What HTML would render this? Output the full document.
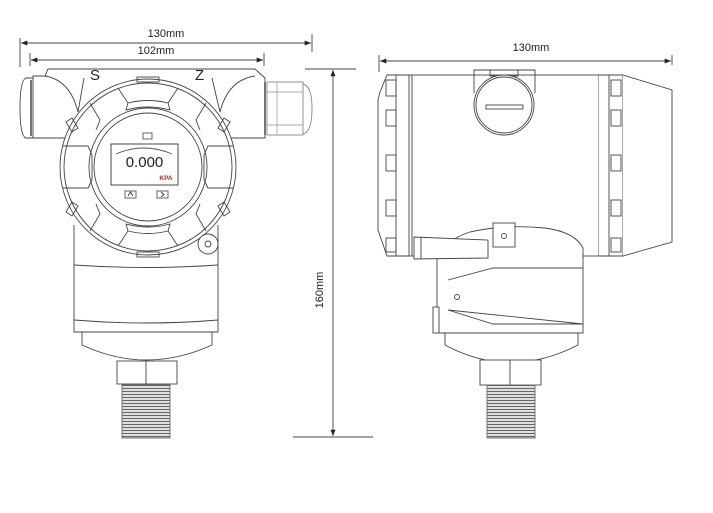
<!DOCTYPE html>
<html><head><meta charset="utf-8"><style>
html,body{margin:0;padding:0;background:#fff;}
svg{display:block;}
text{font-family:"Liberation Sans",sans-serif;fill:#222;}
</style></head><body>
<svg width="713" height="513" viewBox="0 0 713 513" xmlns="http://www.w3.org/2000/svg">
<defs>
<marker id="a" viewBox="0 0 10 10" refX="10" refY="5" markerWidth="7" markerHeight="7" orient="auto-start-reverse"><path d="M0,1 L10,5 L0,9 z" fill="#222"/></marker>
<pattern id="thr" width="4" height="3" patternUnits="userSpaceOnUse"><rect width="4" height="3" fill="#fff"/><line x1="0" y1="1.5" x2="4" y2="1.5" stroke="#666" stroke-width="1.4"/></pattern>
</defs>
<g fill="none" stroke="#444" stroke-width="0.9">
<!-- LEFT VIEW dimensions -->
<line x1="20" y1="38" x2="20" y2="67"/>
<line x1="312" y1="34" x2="312" y2="52"/>
<line x1="21" y1="43" x2="311" y2="43" marker-start="url(#a)" marker-end="url(#a)"/>
<line x1="30" y1="53" x2="30" y2="66"/>
<line x1="264" y1="53" x2="264" y2="66"/>
<line x1="31" y1="60" x2="263" y2="60" marker-start="url(#a)" marker-end="url(#a)"/>
<!-- 160 dim -->
<line x1="305" y1="69" x2="356" y2="69"/>
<line x1="293" y1="437" x2="373" y2="437"/>
<line x1="333" y1="70" x2="333" y2="436" marker-start="url(#a)" marker-end="url(#a)"/>

<!-- top housing -->
<path d="M33,138 L33,76 L45,76 L48,69 L255,69 L265,78 L265,138 Z" fill="#fff"/>
<path d="M45,76 Q70,80 78,112 L84,78"/>
<path d="M255,76 Q228,80 220,112 L212,78"/>
<path d="M33,78 L26,78 Q20,80 20,108 Q20,136 26,138 L33,138 Z" fill="#fff"/>
<line x1="31" y1="80" x2="31" y2="136" stroke-width="1.5"/>
<!-- right gland -->
<line x1="265" y1="82" x2="265" y2="135" stroke-width="1.5"/>
<rect x="267" y="82" width="36" height="53" stroke="#888" fill="#fff"/>
<line x1="277" y1="82" x2="277" y2="135" stroke="#aaa"/>
<line x1="267" y1="92" x2="303" y2="92" stroke="#aaa"/>
<line x1="267" y1="125" x2="303" y2="125" stroke="#aaa"/>
<path d="M303,84 Q312,86 312,108 Q312,132 303,134" stroke="#888"/>

<!-- body below -->
<path d="M74,225 L74,332 L218,332 L218,225" fill="#fff"/>
<path d="M74,265 Q146,270 218,265"/>
<path d="M74,320 Q146,326 218,320"/>
<path d="M82,332 L82,345 Q146,375 212,345 L212,332"/>
<rect x="117" y="361" width="60" height="23" fill="#fff"/>
<line x1="146" y1="361" x2="146" y2="384"/>
<rect x="122" y="385" width="48" height="53" fill="url(#thr)" stroke="#666"/>

<!-- main circle -->
<circle cx="148" cy="167" r="88" fill="#fff"/>
<circle cx="148" cy="167" r="84"/>
<circle cx="148" cy="167" r="59"/>
<circle cx="148" cy="167" r="54"/>
<!-- lugs -->
<g>
<path d="M118,88 L128,103 Q148,98 168,103 L178,88"/>
<path d="M128,103 L126,110 Q148,104 170,110 L168,103"/>
<path d="M118,246 L128,231 Q148,236 168,231 L178,246"/>
<path d="M128,231 L126,224 Q148,230 170,224 L168,231"/>
<path d="M63,146 L88,146 L92,155 L92,180 L88,188 L63,188"/>
<path d="M233,146 L208,146 L204,155 L204,180 L208,188 L233,188"/>
<path d="M90,103 L100,120 L96,130"/>
<path d="M206,103 L196,120 L200,130"/>
<path d="M90,231 L100,214 L96,204"/>
<path d="M206,231 L196,214 L200,204"/>
<rect x="137" y="77" width="22" height="5"/>
<rect x="137" y="252" width="22" height="5"/>
<path d="M66,122 L72,118 L78,128 L72,132 Z"/>
<path d="M230,122 L224,118 L218,128 L224,132 Z"/>
<path d="M66,212 L72,216 L78,206 L72,202 Z"/>
<path d="M230,212 L224,216 L218,206 L224,202 Z"/>
</g>
<!-- screw -->
<circle cx="208" cy="244" r="10" fill="#fff"/>
<circle cx="208" cy="244" r="3"/>
<!-- LCD -->
<rect x="111" y="144" width="67" height="41" stroke="#333"/>
<path d="M116,154 Q144,142 172,154" stroke="#555"/>
<rect x="143" y="133" width="9" height="6" stroke="#555"/>
<rect x="125" y="191" width="11" height="7" stroke="#555"/>
<rect x="157" y="191" width="11" height="7" stroke="#555"/>
<path d="M128,196 L130.5,192 L133,196" stroke="#333"/>
<path d="M161,192 L164,194.5 L161,197" stroke="#333"/>

<!-- RIGHT VIEW -->
<line x1="379" y1="55" x2="379" y2="72"/>
<line x1="672" y1="55" x2="672" y2="65"/>
<line x1="380" y1="61" x2="671" y2="61" marker-start="url(#a)" marker-end="url(#a)"/>
<!-- left fins -->
<path d="M409,75 L387,75 L380,92 L378,100 L378,230 L387,256 L409,256" fill="#fff"/>
<rect x="386" y="80" width="10" height="16"/>
<rect x="386" y="110" width="10" height="16"/>
<rect x="386" y="155" width="10" height="16"/>
<rect x="386" y="200" width="10" height="16"/>
<rect x="386" y="238" width="10" height="14"/>
<line x1="396" y1="75" x2="396" y2="256"/>
<!-- main box -->
<rect x="409" y="75" width="190" height="181" fill="#fff"/>
<line x1="412" y1="75" x2="412" y2="256"/>
<!-- right fins + cap -->
<path d="M599,75 L623,75 L623,256 L599,256" fill="#fff"/>
<rect x="611" y="80" width="10" height="16"/>
<rect x="611" y="110" width="10" height="16"/>
<rect x="611" y="155" width="10" height="16"/>
<rect x="611" y="200" width="10" height="16"/>
<rect x="611" y="238" width="10" height="14"/>
<line x1="609" y1="75" x2="609" y2="256"/>
<path d="M623,75 L672,90 L672,242 L623,256" fill="#fff"/>
<!-- top plug -->
<path d="M474,93 L474,70 L535,70 L535,93"/>
<path d="M490,70 L490,76 L518,76 L518,70"/>
<circle cx="504" cy="105" r="30" fill="#fff"/>
<circle cx="504" cy="105" r="28"/>
<rect x="486" y="105" width="37" height="4"/>
<!-- lower housing -->
<path d="M437,258 L437,333 L583,333 L583,248 Q575,232 545,228 Q505,224 470,232 Q445,240 437,258 Z" fill="#fff"/>
<path d="M448,280 L493,268 L583,268 M583,324 L493,324 L448,310 Z"/>
<circle cx="457" cy="297" r="2.5"/>
<rect x="433" y="307" width="6" height="26" fill="#fff"/>
<rect x="493" y="223" width="22" height="24" fill="#fff"/>
<circle cx="504" cy="236" r="2.5"/>
<path d="M414,237 L488,240 L488,258 L414,259 Z" fill="#fff"/>
<line x1="421" y1="237" x2="421" y2="259"/>
<path d="M445,333 L445,345 Q510,380 578,345 L578,333"/>
<rect x="480" y="360" width="61" height="25" fill="#fff"/>
<line x1="510" y1="360" x2="510" y2="385"/>
<rect x="487" y="385" width="48" height="53" fill="url(#thr)" stroke="#666"/>
</g>
<text x="166" y="37" font-size="11" text-anchor="middle">130mm</text>
<text x="156" y="54" font-size="11" text-anchor="middle">102mm</text>
<text x="90" y="80" font-size="15">S</text>
<text x="195" y="80" font-size="15">Z</text>
<text x="144.5" y="167" font-size="15" text-anchor="middle" fill="#223">0.000</text>
<text x="166" y="180" font-size="6.5" text-anchor="middle" fill="#b33" font-weight="bold" style="fill:#a33">KPA</text>
<text x="323" y="290" font-size="11" text-anchor="middle" transform="rotate(-90 323 290)">160mm</text>
<text x="531" y="51" font-size="11" text-anchor="middle">130mm</text>
</svg>
</body></html>
